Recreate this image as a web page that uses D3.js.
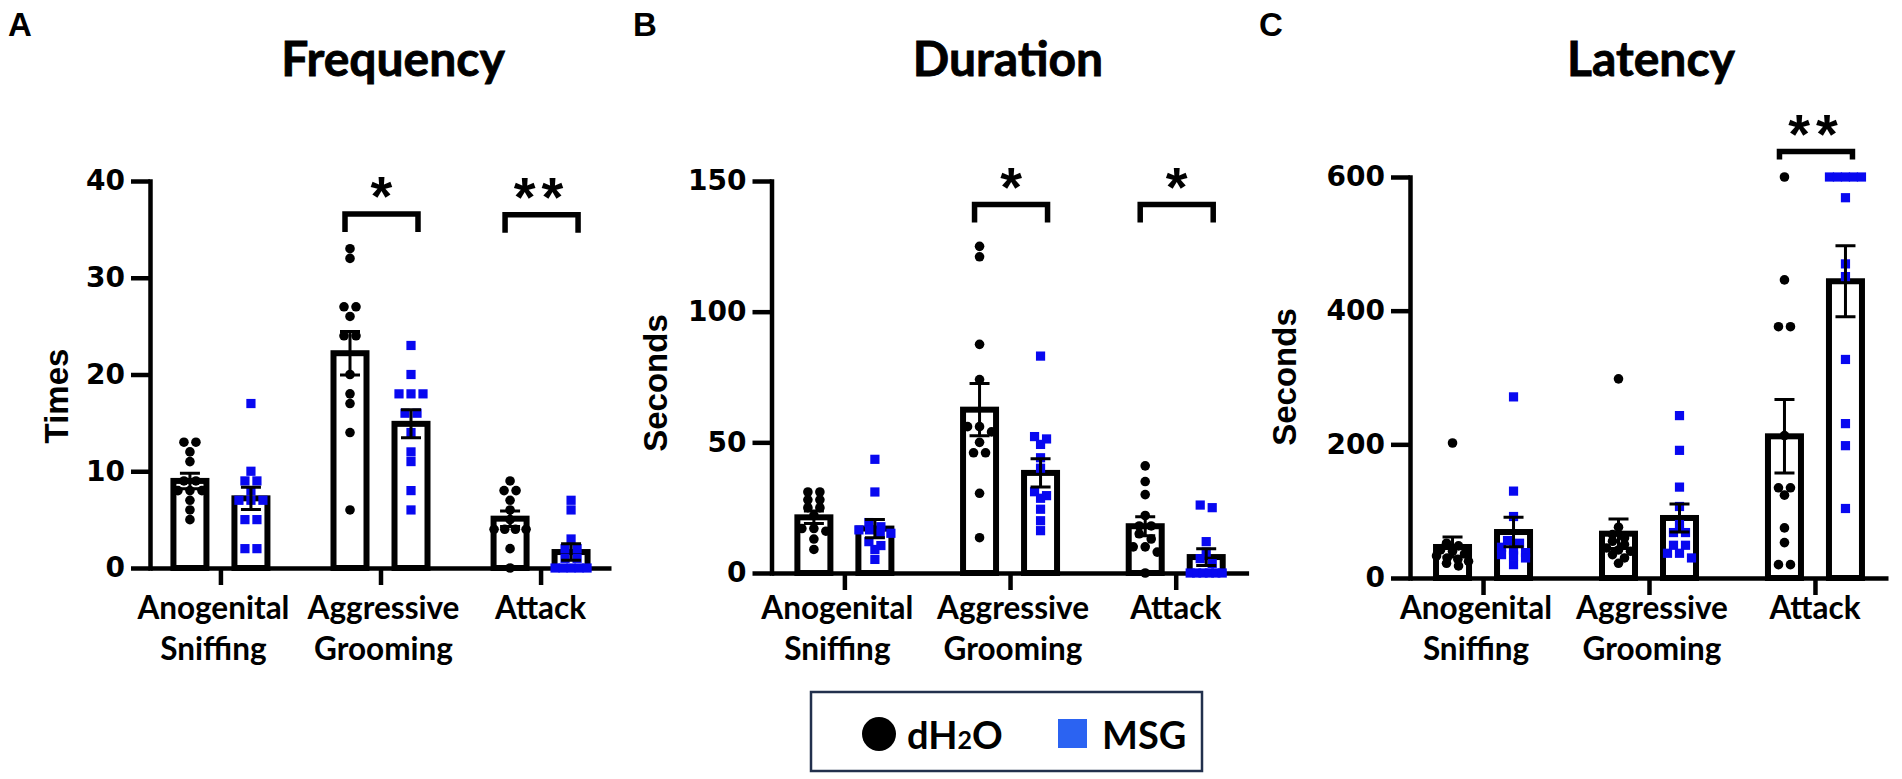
<!DOCTYPE html>
<html><head><meta charset="utf-8">
<script src="https://cdnjs.cloudflare.com/ajax/libs/d3/7.8.5/d3.min.js"></script>
<style>body{margin:0;background:#fff} svg{display:block}</style>
</head><body><svg id="chart" width="1902" height="779"></svg>
<script>
// ---------------- DATA ----------------
const categories = ["Anogenital Sniffing", "Aggressive Grooming", "Attack"];
const categoryLines = [["Anogenital", "Sniffing"], ["Aggressive", "Grooming"], ["Attack"]];
const groups = ["dH2O", "MSG"];

// A: Frequency (Times)
const freqTicks = [0, 10, 20, 30, 40];
const freqMeanH2O = [9.0, 22.2, 5.1];
const freqSemH2O = [0.8, 2.25, 0.8];
const freqMeanMSG = [7.2, 14.9, 1.65];
const freqSemMSG = [1.15, 1.45, 0.85];
const freqPtsH2O = [[13,13,12,11,9,9,8,8,8,7,6,5],[33,32,27,27,26,24,24,20,18,17,14,6],[9,8,8,7,6,5,4,4,4,4,2,0]];
const freqPtsMSG = [[17,10,9,9,8,7,7,7,5,5,2,2],[23,20,18,18,18,16,16,14,12,11,8,6],[7,6,3,2,2,1,1,0,0,0,0,0]];
const freqSig = [null, "*", "**"];
const freqBracket = [null, 36.6, 36.5];

// B: Duration (Seconds)
const durTicks = [0, 50, 100, 150];
const durMeanH2O = [21.3, 62.5, 17.9];
const durSemH2O = [2.4, 10, 3.6];
const durMeanMSG = [17, 38.3, 6.1];
const durSemMSG = [3.5, 5.4, 3.2];
const durPtsH2O = [[31,31,28,28,25,25,22,17,17,16,13,9],[125,121,87.5,74,56,56,54,50,46,46,30.5,13.5],[41,35,30,22,18,18,15,13,10,10,8,0]];
const durPtsMSG = [[43.5,31,19.3,17.7,16.5,16.5,15.2,15.2,12,10.5,9,5.2],[83,52.2,51.3,49.2,44.1,40.1,31.1,29.6,28.6,24.4,20,16.2],[26,25,12,8,5.5,3.6,0,0,0,0,0,0]];
const durSig = [null, "*", "*"];
const durBracket = [null, 141, 141];

// C: Latency (Seconds)
const latTicks = [0, 200, 400, 600];
const latMeanH2O = [46.4, 66.3, 212];
const latSemH2O = [15, 22, 55];
const latMeanMSG = [68.8, 89.8, 444];
const latSemMSG = [22, 21, 53];
const latPtsH2O = [[202,52,48,42,40,36,33,30,28,25,22,18],[298,76,65,60,55,50,45,42,40,35,30,22],[600,446,376,376,213,135,135,124,75,53,20,20]];
const latPtsMSG = [[271,130,92,56,52,46,42,38,35,33,30,20],[243,191,136,107,80,68,68,49,49,37,37,30],[600,600,600,600,600,569,470,451,327,231,198,104]];
const latSig = [null, null, "**"];
const latBracket = [null, null, 638];

// ---------------- LAYOUT ----------------
const BLUE = "#0808f0";
const labelShift = [-7, 3, 0];
const svg = d3.select("#chart");

const panels = [
  {letter:"A", title:"Frequency", ylabel:"Times", ticks:freqTicks,
   mean:{dH2O:freqMeanH2O, MSG:freqMeanMSG}, sem:{dH2O:freqSemH2O, MSG:freqSemMSG},
   pts:{dH2O:freqPtsH2O, MSG:freqPtsMSG}, sig:freqSig, bracket:freqBracket,
   x0:150, x1:611, yb:568, yt:181, letterX:8, titleX:393, ylabX:56, ylabY:396, leg:18},
  {letter:"B", title:"Duration", ylabel:"Seconds", ticks:durTicks,
   mean:{dH2O:durMeanH2O, MSG:durMeanMSG}, sem:{dH2O:durSemH2O, MSG:durSemMSG},
   pts:{dH2O:durPtsH2O, MSG:durPtsMSG}, sig:durSig, bracket:durBracket,
   x0:771.5, x1:1248.6, yb:573, yt:181, letterX:633, titleX:1008, ylabX:655, ylabY:383, leg:18},
  {letter:"C", title:"Latency", ylabel:"Seconds", ticks:latTicks,
   mean:{dH2O:latMeanH2O, MSG:latMeanMSG}, sem:{dH2O:latSemH2O, MSG:latSemMSG},
   pts:{dH2O:latPtsH2O, MSG:latPtsMSG}, sig:latSig, bracket:latBracket,
   x0:1410, x1:1888, yb:578, yt:177, letterX:1259, titleX:1651, ylabX:1284, ylabY:377, leg:8}
];

function spreadRows(vals, y, tol) {
  const sorted = vals.map((v,i)=>({v,i})).sort((a,b)=>b.v-a.v);
  const rows = [];
  sorted.forEach(p => {
    const py = y(p.v);
    const r = rows[rows.length-1];
    if (r && Math.abs(py - r.py) < tol) r.items.push(p); else rows.push({py, items:[p]});
  });
  const out = [];
  rows.forEach(r => {
    const n = r.items.length;
    const sp = n > 1 ? Math.min(12, 32/(n-1)) : 0;
    r.items.forEach((p,k) => out.push({v:p.v, dx:(k-(n-1)/2)*sp}));
  });
  return out;
}

panels.forEach(P => {
  const g = svg.append("g");
  const y = d3.scaleLinear().domain([0, d3.max(P.ticks)]).range([P.yb, P.yt]);
  const x = d3.scalePoint().domain(categories).range([P.x0, P.x1]).padding(0.44);
  const xs = d3.scaleBand().domain(groups).range([-61, 61]);
  const cx = (c, grp) => x(c) + xs(grp) + xs.bandwidth()/2;

  // letter & title
  g.append("text").attr("x", P.letterX).attr("y", 36).text(P.letter)
    .attr("font-family","Liberation Sans, Arial, sans-serif").attr("font-weight","bold").attr("font-size",33);
  g.append("text").attr("x", P.titleX).attr("y", 76).attr("text-anchor","middle").text(P.title)
    .attr("font-family","Lato, sans-serif").attr("font-weight","bold").attr("font-size",48)
    .attr("stroke","#000").attr("stroke-width",0.8);

  // bars
  groups.forEach(grp => {
    g.selectAll(null).data(categories).enter().append("rect")
      .attr("x", c => cx(c, grp) - 16.5).attr("width", 33)
      .attr("y", (c,i) => y(P.mean[grp][i])).attr("height", (c,i) => P.yb - y(P.mean[grp][i]))
      .attr("fill","#fff").attr("stroke","#000").attr("stroke-width",6);
  });

  // y axis
  const ya = g.append("g").attr("transform", `translate(${P.x0},0)`)
    .call(d3.axisLeft(y).tickValues(P.ticks).tickSize(19).tickSizeOuter(0).tickPadding(6));
  ya.select(".domain").attr("stroke-width",4.5).attr("stroke-linecap","square");
  ya.selectAll(".tick line").attr("stroke-width",4.5);
  ya.selectAll(".tick text").attr("font-family","DejaVu Sans, sans-serif").attr("font-weight","bold")
    .attr("font-size",28).attr("fill","#000");

  // x axis
  const xa = g.append("g").attr("transform", `translate(0,${P.yb})`)
    .call(d3.axisBottom(x).tickSize(17).tickSizeOuter(0).tickFormat(""));
  xa.select(".domain").attr("stroke-width",4.5);
  xa.selectAll(".tick line").attr("stroke-width",4.5);

  // category labels
  categories.forEach((c, i) => {
    const t = g.append("text").attr("text-anchor","middle")
      .attr("font-family","Lato, sans-serif").attr("font-weight","bold").attr("font-size",31.5);
    categoryLines[i].forEach((ln, k) => {
      t.append("tspan").attr("x", x(c) + labelShift[i]).attr("y", 619 + k*41).text(ln);
    });
  });

  // y label
  g.append("text").attr("transform", `translate(${P.ylabX},${P.ylabY}) rotate(-90)`)
    .attr("text-anchor","middle").attr("dominant-baseline","central").text(P.ylabel)
    .attr("font-family","Liberation Sans, Arial, sans-serif").attr("font-weight","bold").attr("font-size",33);

  // points
  categories.forEach((c, i) => {
    groups.forEach(grp => {
      const pts = spreadRows(P.pts[grp][i], y, 6);
      if (grp === "dH2O") {
        g.selectAll(null).data(pts).enter().append("circle")
          .attr("cx", d => cx(c, grp) + d.dx).attr("cy", d => y(d.v)).attr("r", 4.8).attr("fill","#000");
      } else {
        g.selectAll(null).data(pts).enter().append("rect")
          .attr("x", d => cx(c, grp) + d.dx - 4.6).attr("y", d => y(d.v) - 4.6)
          .attr("width", 9.2).attr("height", 9.2).attr("fill", BLUE);
      }
    });
  });

  // error bars
  categories.forEach((c, i) => {
    groups.forEach(grp => {
      const m = P.mean[grp][i], s = P.sem[grp][i], xc = cx(c, grp);
      g.append("path")
        .attr("d", `M${xc},${y(m-s)}V${y(m+s)}M${xc-10},${y(m+s)}H${xc+10}M${xc-10},${y(m-s)}H${xc+10}`)
        .attr("stroke","#000").attr("stroke-width",3).attr("fill","none");
    });
  });

  // significance
  categories.forEach((c, i) => {
    if (!P.sig[i]) return;
    const xl = cx(c, "dH2O") - 5, xr = cx(c, "MSG") + 7, yb = y(P.bracket[i]);
    g.append("path").attr("d", `M${xl},${yb+P.leg}V${yb}H${xr}V${yb+P.leg}`)
      .attr("stroke","#000").attr("stroke-width",5.5).attr("fill","none").attr("stroke-linejoin","miter");
    g.append("text").attr("x", (xl+xr)/2).attr("y", yb + 1).attr("text-anchor","middle")
      .attr("font-family","Liberation Sans, Arial, sans-serif").attr("font-weight","bold").attr("font-size",56)
      .attr("letter-spacing", P.sig[i].length > 1 ? 6 : 0)
      .text(P.sig[i]);
  });
});

// legend
const lg = svg.append("g");
lg.append("rect").attr("x",811).attr("y",692).attr("width",391).attr("height",79)
  .attr("fill","#fff").attr("stroke","#22304d").attr("stroke-width",2.5);
lg.append("circle").attr("cx",879).attr("cy",734).attr("r",17).attr("fill","#000");
const lt = lg.append("text").attr("x",907).attr("y",749)
  .attr("font-family","Lato, sans-serif").attr("font-weight","bold").attr("font-size",38);
lt.append("tspan").text("dH");
lt.append("tspan").attr("font-size",25).text("2");
lt.append("tspan").text("O");
lg.append("rect").attr("x",1058).attr("y",719).attr("width",29).attr("height",29).attr("fill","#2b63f2");
lg.append("text").attr("x",1102).attr("y",749).text("MSG")
  .attr("font-family","Lato, sans-serif").attr("font-weight","bold").attr("font-size",38);
</script></body></html>
